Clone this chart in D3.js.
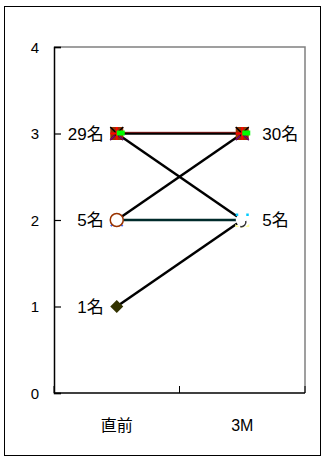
<!DOCTYPE html>
<html><head><meta charset="utf-8">
<script src="https://cdn.jsdelivr.net/npm/d3@7"></script>
<style>body{margin:0;background:#fff}</style>
</head><body>
<script>
const categories = ["直前", "3M"];
const yTicks = [0, 1, 2, 3, 4];
// each series: value at 直前, value at 3M
const seriesNames = ["A", "B", "C", "D", "E"];
const seriesStart = [3, 3, 2, 2, 1];
const seriesEnd   = [3, 2, 3, 2, 2];
const seriesColors = ["#000000", "#000000", "#000000", "#002b2b", "#000000"];
// data labels
const labelCats = ["直前", "3M", "直前", "3M", "直前"];
const labelVals = [3, 3, 2, 2, 1];
const labelTexts = ["29名", "30名", "5名", "5名", "1名"];
const labelSide = ["left", "right", "left", "right", "left"];

const W = 322, H = 462;
const svg = d3.select("body").append("svg").attr("width", W).attr("height", H);
const font = "'Liberation Sans', Arial, 'Noto Sans CJK JP', sans-serif";

svg.append("rect").attr("x", 4.5).attr("y", 6.5).attr("width", 316).attr("height", 449)
  .attr("fill", "#fff").attr("stroke", "#000").attr("stroke-width", 1);

const L = 54, R = 305, T = 47, B = 393;
const x = d3.scaleBand().domain(categories).range([L, R]);
const y = d3.scaleLinear().domain([0, 4]).range([B, T]);

// plot area border (gray)
svg.append("path").attr("d", `M${L},${T}H${R}V${B}`).attr("fill", "none")
  .attr("stroke", "#808080").attr("stroke-width", 1.5);

// y axis
const yAxis = svg.append("g").attr("transform", `translate(${L},0)`)
  .call(d3.axisRight(y).tickValues(yTicks).tickSize(7).tickFormat(""));
yAxis.select(".domain").attr("stroke-width", 1.5);
yAxis.selectAll("line").attr("stroke-width", 1.2);
svg.append("g").selectAll("text").data(yTicks).join("text")
  .attr("x", 39).attr("y", d => y(d) + 5.5).attr("text-anchor", "end")
  .attr("font-family", font).attr("font-size", 15).text(d => d);

// x axis
const xBounds = [L, (L + R) / 2, R];
svg.append("line").attr("x1", L).attr("x2", R).attr("y1", B).attr("y2", B)
  .attr("stroke", "#000").attr("stroke-width", 1.5);
svg.append("g").selectAll("line").data(xBounds).join("line")
  .attr("x1", d => d).attr("x2", d => d).attr("y1", B).attr("y2", B - 7)
  .attr("stroke", "#000").attr("stroke-width", 1);
svg.append("g").selectAll("text").data(categories).join("text")
  .attr("x", d => x(d) + x.bandwidth() / 2).attr("y", 431).attr("text-anchor", "middle")
  .attr("font-family", font).attr("font-size", 16).text(d => d);

const cx = c => x(c) + x.bandwidth() / 2;

// lines
seriesNames.forEach((s, i) => {
  svg.append("line")
    .attr("x1", cx(categories[0])).attr("y1", y(seriesStart[i]))
    .attr("x2", cx(categories[1])).attr("y2", y(seriesEnd[i]))
    .attr("stroke", seriesColors[i]).attr("stroke-width", 2.5);
});
// thin dark-red overlay on top line
svg.append("line")
  .attr("x1", cx(categories[0])).attr("y1", y(3) - 1.2)
  .attr("x2", cx(categories[1])).attr("y2", y(3) - 1.2)
  .attr("stroke", "#800000").attr("stroke-width", 0.8);

// markers
function topMarker(px, py) {
  const g = svg.append("g").attr("transform", `translate(${px},${py})`);
  g.append("rect").attr("x", -6.5).attr("y", -6.5).attr("width", 13).attr("height", 13).attr("fill", "#993300");
  g.append("path").attr("d", "M-6.5,-6.5L6.5,6.5M6.5,-6.5L-6.5,6.5").attr("stroke", "#000").attr("stroke-width", 1.5);
  g.append("path").attr("d", "M0,-6.5V6.5").attr("stroke", "#ff0000").attr("stroke-width", 2);
  g.append("path").attr("d", "M-6.5,0H0").attr("stroke", "#ff0000").attr("stroke-width", 2);
  g.append("path").attr("d", "M-6.5,6.5L-2,2M6.5,6.5L2,2").attr("stroke", "#800080").attr("stroke-width", 1.5);
  g.append("rect").attr("x", 0).attr("y", -3).attr("width", 8).attr("height", 5).attr("fill", "#00ff00");
}
topMarker(cx(categories[0]), y(3));
topMarker(cx(categories[1]), y(3));

// 直前 = 2 circle
(function () {
  const g = svg.append("g").attr("transform", `translate(${cx(categories[0])},${y(2)})`);
  g.append("path").attr("d", "M-6,6L-2,3M6,6L2,3").attr("stroke", "#3366ff").attr("stroke-width", 2);
  g.append("circle").attr("r", 6.5).attr("fill", "#fff").attr("stroke", "#993300").attr("stroke-width", 1.5);
})();
// 3M = 2 circle
(function () {
  const g = svg.append("g").attr("transform", `translate(${cx(categories[1])},${y(2)})`);
  g.append("path").attr("d", "M-7,4Q0,11 7,4L7,7H-7Z").attr("fill", "#ffff99");
  g.append("circle").attr("r", 6.5).attr("fill", "#fff");
  g.append("path").attr("d", "M3.5,1A4.5,4.5 0 0 1 -2,6.5").attr("fill", "none").attr("stroke", "#333").attr("stroke-width", 1.5);
  g.append("rect").attr("x", -6.5).attr("y", -6.5).attr("width", 2.5).attr("height", 2.5).attr("fill", "#00ccff");
  g.append("rect").attr("x", 4).attr("y", -6.5).attr("width", 2.5).attr("height", 2.5).attr("fill", "#00ccff");
})();
// 直前 = 1 diamond
svg.append("path").attr("transform", `translate(${cx(categories[0])},${y(1)})`)
  .attr("d", "M0,-6.5L6.5,0L0,6.5L-6.5,0Z").attr("fill", "#333300");

// data labels
svg.append("g").selectAll("text").data(labelTexts).join("text")
  .attr("x", (d, i) => cx(labelCats[i]) + (labelSide[i] === "left" ? -13 : 20))
  .attr("y", (d, i) => y(labelVals[i]) + 6)
  .attr("text-anchor", (d, i) => labelSide[i] === "left" ? "end" : "start")
  .attr("font-family", font).attr("font-size", 17).text(d => d);
</script>
</body></html>
